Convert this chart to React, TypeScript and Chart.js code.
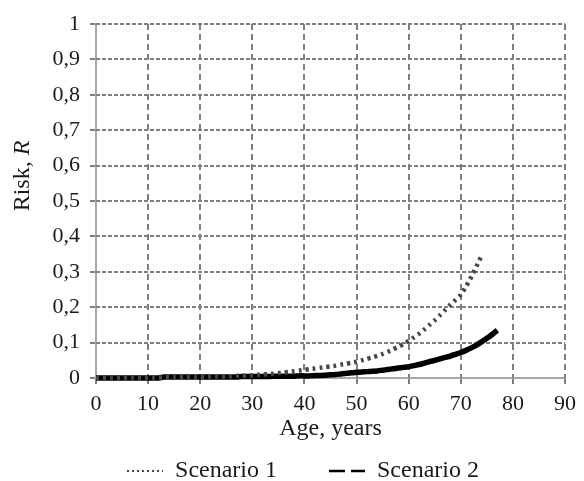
import React, { useEffect, useRef } from 'react';
import { Chart, registerables } from 'chart.js';

Chart.register(...registerables);

const scenario1Label = 'Scenario 1';
const scenario2Label = 'Scenario 2';

// Risk by age (index = age in years)
const scenario1Risk = [
  0, 0, 0, 0, 0, 0, 0.001, 0.001, 0.001, 0.001,
  0.001, 0.001, 0.001, 0.002, 0.002, 0.002, 0.002, 0.002, 0.003, 0.003,
  0.003, 0.003, 0.004, 0.004, 0.004, 0.005, 0.005, 0.006, 0.006, 0.007,
  0.008, 0.009, 0.01, 0.011, 0.012, 0.014, 0.015, 0.017, 0.019, 0.021,
  0.023, 0.025, 0.027, 0.029, 0.031, 0.033, 0.035, 0.038, 0.04, 0.043,
  0.046, 0.05, 0.054, 0.058, 0.063, 0.068, 0.074, 0.081, 0.088, 0.096,
  0.105, 0.115, 0.125, 0.137, 0.15, 0.163, 0.177, 0.192, 0.207, 0.221,
  0.235, 0.258, 0.285, 0.315, 0.346,
];

const scenario2Risk = [
  0, 0, 0, 0, 0, 0, 0, 0, 0, 0,
  0, 0, 0, 0.003, 0.003, 0.003, 0.003, 0.003, 0.003, 0.003,
  0.003, 0.003, 0.003, 0.003, 0.003, 0.003, 0.003, 0.003, 0.004, 0.004,
  0.004, 0.004, 0.004, 0.004, 0.005, 0.005, 0.005, 0.005, 0.005, 0.006,
  0.006, 0.006, 0.007, 0.007, 0.008, 0.009, 0.01, 0.011, 0.013, 0.015,
  0.016, 0.017, 0.018, 0.019, 0.02, 0.022, 0.024, 0.026, 0.028, 0.03,
  0.032, 0.035, 0.038, 0.042, 0.046, 0.05, 0.054, 0.058, 0.062, 0.067,
  0.072, 0.078, 0.085, 0.093, 0.102, 0.112, 0.123, 0.135,
];

const yTickLabels = ['0', '0,1', '0,2', '0,3', '0,4', '0,5', '0,6', '0,7', '0,8', '0,9', '1'];
const xTitle = 'Age, years';
const yTitleMain = 'Risk, ';
const yTitleItalic = 'R';

const FONT_FAMILY = '"Liberation Serif", "Times New Roman", serif';
const TICK_SIZE = 22;
const TITLE_SIZE = 24;
const TEXT_COLOR = '#1a1a1a';
const GRID_COLOR = '#7f7f7f';
const AXIS_COLOR = '#a8a8a8';

const dashedGridPlugin = {
  id: 'dashedGrid',
  beforeDatasetsDraw(chart: any) {
    const ctx = chart.ctx;
    const { top, bottom, left, right } = chart.chartArea;
    const xs = chart.scales.x;
    const ys = chart.scales.y;
    ctx.save();
    ctx.strokeStyle = GRID_COLOR;
    ctx.lineWidth = 2;
    ctx.setLineDash([6, 4]);
    xs.ticks.forEach((t: any) => {
      if (t.value === xs.min) return;
      const px = Math.round(xs.getPixelForValue(t.value));
      ctx.beginPath();
      ctx.moveTo(px, top);
      ctx.lineTo(px, bottom);
      ctx.stroke();
    });
    ctx.setLineDash([4, 2]);
    ys.ticks.forEach((t: any) => {
      if (t.value === ys.min) return;
      const py = Math.round(ys.getPixelForValue(t.value));
      ctx.beginPath();
      ctx.moveTo(left, py);
      ctx.lineTo(right, py);
      ctx.stroke();
    });
    ctx.restore();
  },
};

const yTitlePlugin = {
  id: 'yTitleRich',
  afterDraw(chart: any) {
    const ctx = chart.ctx;
    ctx.save();
    ctx.fillStyle = TEXT_COLOR;
    ctx.textBaseline = 'middle';
    ctx.textAlign = 'left';
    const normal = `${TITLE_SIZE}px ${FONT_FAMILY}`;
    const italic = `italic ${TITLE_SIZE}px ${FONT_FAMILY}`;
    ctx.font = normal;
    const w1 = ctx.measureText(yTitleMain).width;
    ctx.font = italic;
    const w2 = ctx.measureText(yTitleItalic).width;
    const total = w1 + w2;
    ctx.translate(23, 176);
    ctx.rotate(-Math.PI / 2);
    ctx.font = normal;
    ctx.fillText(yTitleMain, -total / 2, 0);
    ctx.font = italic;
    ctx.fillText(yTitleItalic, -total / 2 + w1, 0);
    ctx.restore();
  },
};

const legendPlugin = {
  id: 'customLegend',
  afterDraw(chart: any) {
    const ctx = chart.ctx;
    const items = chart.data.datasets.map((ds: any) => ({
      text: ds.label,
      color: ds.legendColor,
      dash: ds.legendDash,
      width: ds.legendWidth,
    }));
    const boxW = 36;
    const gap = 12;
    const spacing = 52;
    const y = 471;
    ctx.save();
    ctx.font = `${TITLE_SIZE}px ${FONT_FAMILY}`;
    const widths = items.map((it: any) => ctx.measureText(it.text).width);
    let total = 0;
    items.forEach((_: any, i: number) => {
      total += boxW + gap + widths[i];
      if (i > 0) total += spacing;
    });
    let x = 303 - total / 2;
    items.forEach((it: any, i: number) => {
      ctx.beginPath();
      ctx.setLineDash(it.dash);
      ctx.lineWidth = it.width;
      ctx.strokeStyle = it.color;
      ctx.moveTo(x, y);
      ctx.lineTo(x + boxW, y);
      ctx.stroke();
      ctx.setLineDash([]);
      ctx.fillStyle = TEXT_COLOR;
      ctx.textBaseline = 'middle';
      ctx.textAlign = 'left';
      ctx.fillText(it.text, x + boxW + gap, y);
      x += boxW + gap + widths[i] + spacing;
    });
    ctx.restore();
  },
};

export default function App() {
  const canvasRef = useRef<HTMLCanvasElement | null>(null);

  useEffect(() => {
    if (!canvasRef.current) return;
    const chart = new Chart(canvasRef.current, {
      type: 'line',
      data: {
        datasets: [
          {
            label: scenario1Label,
            data: scenario1Risk.map((v, i) => ({ x: i, y: v })),
            borderColor: '#474747',
            borderWidth: 4.5,
            borderDash: [3, 4],
            pointRadius: 0,
            tension: 0.2,
            clip: false,
            legendColor: '#474747',
            legendDash: [2, 3],
            legendWidth: 2,
            order: 1,
          } as any,
          {
            label: scenario2Label,
            data: scenario2Risk.map((v, i) => ({ x: i, y: v })),
            borderColor: '#000000',
            borderWidth: 5.5,
            pointRadius: 0,
            tension: 0.2,
            clip: false,
            legendColor: '#000000',
            legendDash: [16, 6],
            legendWidth: 2.5,
            order: 2,
          } as any,
        ],
      },
      options: {
        responsive: false,
        animation: false,
        layout: { padding: { left: 0, right: 19, top: 24, bottom: 38 } },
        plugins: {
          legend: { display: false },
          tooltip: { enabled: false },
        },
        scales: {
          x: {
            type: 'linear',
            min: 0,
            max: 90,
            afterFit: (scale: any) => {
              scale.height = 65;
            },
            ticks: {
              stepSize: 10,
              padding: 7,
              color: TEXT_COLOR,
              font: { family: FONT_FAMILY, size: TICK_SIZE },
              maxRotation: 0,
            },
            grid: {
              drawOnChartArea: false,
              color: GRID_COLOR,
              lineWidth: 2,
              tickLength: 6,
              tickColor: GRID_COLOR,
              tickWidth: 2,
            } as any,
            border: { display: true, color: AXIS_COLOR, width: 2 },
            title: {
              display: true,
              text: xTitle,
              color: TEXT_COLOR,
              font: { family: FONT_FAMILY, size: TITLE_SIZE },
              padding: { top: 0, bottom: 0 },
            },
          },
          y: {
            type: 'linear',
            min: 0,
            max: 1,
            afterFit: (scale: any) => {
              scale.width = 96;
            },
            ticks: {
              stepSize: 0.1,
              padding: 10,
              color: TEXT_COLOR,
              font: { family: FONT_FAMILY, size: TICK_SIZE },
              callback: (_v: any, i: number) => yTickLabels[i],
            },
            grid: {
              drawOnChartArea: false,
              color: GRID_COLOR,
              lineWidth: 2,
              tickLength: 6,
              tickColor: GRID_COLOR,
              tickWidth: 2,
            } as any,
            border: { display: true, color: AXIS_COLOR, width: 2 },
          },
        },
      } as any,
      plugins: [dashedGridPlugin, yTitlePlugin, legendPlugin],
    });
    return () => chart.destroy();
  }, []);

  return (
    <div style={{ position: 'fixed', left: 0, top: 0, width: 584, height: 481, background: '#ffffff' }}>
      <canvas ref={canvasRef} width={584} height={481} style={{ display: 'block' }} />
    </div>
  );
}
